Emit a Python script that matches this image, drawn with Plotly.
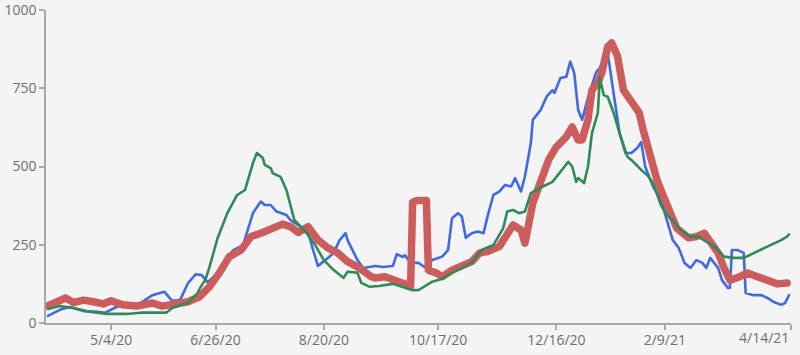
import plotly.graph_objects as go

# ---- data ----
blue_dates = ["2020-04-02","2020-04-08","2020-04-13","2020-04-20","2020-04-27","2020-05-01","2020-05-07","2020-05-19","2020-05-25","2020-05-31",
              "2020-06-04","2020-06-08","2020-06-12","2020-06-16","2020-06-19","2020-06-22","2020-06-26","2020-06-30","2020-07-05","2020-07-10",
              "2020-07-15","2020-07-19","2020-07-21","2020-07-24","2020-07-27","2020-08-01","2020-08-03","2020-08-08","2020-08-12","2020-08-14",
              "2020-08-17","2020-08-22","2020-08-25","2020-08-28","2020-08-31","2020-09-01","2020-09-06","2020-09-09","2020-09-12","2020-09-15",
              "2020-09-19","2020-09-24","2020-09-26","2020-09-29","2020-09-30","2020-10-03","2020-10-07","2020-10-10","2020-10-14","2020-10-19",
              "2020-10-22","2020-10-24","2020-10-27","2020-10-29","2020-10-31","2020-11-03","2020-11-06","2020-11-09","2020-11-11","2020-11-14",
              "2020-11-17","2020-11-20","2020-11-23","2020-11-25","2020-11-28","2020-11-30","2020-12-03","2020-12-04","2020-12-08","2020-12-11",
              "2020-12-14","2020-12-15","2020-12-18","2020-12-21","2020-12-23","2020-12-25","2020-12-27","2020-12-29","2021-01-01","2021-01-05",
              "2021-01-07","2021-01-11","2021-01-12","2021-01-15","2021-01-17","2021-01-20","2021-01-23","2021-01-26","2021-01-28","2021-01-30",
              "2021-02-03","2021-02-07","2021-02-10","2021-02-13","2021-02-16","2021-02-19","2021-02-22","2021-02-25","2021-02-28","2021-03-02",
              "2021-03-04","2021-03-08","2021-03-10","2021-03-13","2021-03-14","2021-03-15","2021-03-18","2021-03-21","2021-03-22","2021-03-26",
              "2021-03-30","2021-04-02","2021-04-05","2021-04-09","2021-04-11","2021-04-13"]
blue_values = [23,42,51,38,36,33,52,64,89,100,
               71,73,127,156,153,130,153,192,233,249,
               351,388,377,377,356,345,329,308,292,244,
               182,208,224,265,287,265,201,176,180,182,
               179,182,220,211,217,192,192,179,201,212,
               233,335,351,340,272,287,292,287,340,409,
               420,441,436,463,420,468,575,649,681,723,
               744,735,783,787,835,799,681,649,720,799,
               815,863,819,691,607,543,543,559,578,500,
               436,393,329,265,240,192,176,201,192,176,
               208,176,137,112,112,233,233,224,96,89,
               89,80,68,58,64,89]

green_dates = ["2020-04-02","2020-04-08","2020-04-15","2020-04-23","2020-05-02","2020-05-12","2020-05-19","2020-06-01","2020-06-04","2020-06-12",
               "2020-06-17","2020-06-18","2020-06-21","2020-06-23","2020-06-27","2020-07-02","2020-07-07","2020-07-11","2020-07-15","2020-07-17",
               "2020-07-20","2020-07-21","2020-07-24","2020-07-25","2020-07-29","2020-08-01","2020-08-05","2020-08-10","2020-08-15","2020-08-20",
               "2020-08-25","2020-08-30","2020-09-01","2020-09-06","2020-09-08","2020-09-12","2020-09-17","2020-09-24","2020-09-29","2020-10-04",
               "2020-10-07","2020-10-10","2020-10-14","2020-10-19","2020-10-24","2020-10-29","2020-11-03","2020-11-08","2020-11-14","2020-11-19",
               "2020-11-21","2020-11-24","2020-11-27","2020-11-30","2020-12-03","2020-12-06","2020-12-09","2020-12-14","2020-12-19","2020-12-22",
               "2020-12-24","2020-12-26","2020-12-27","2020-12-30","2021-01-01","2021-01-03","2021-01-06","2021-01-07","2021-01-09","2021-01-11",
               "2021-01-14","2021-01-17","2021-01-21","2021-01-24","2021-01-28","2021-01-31","2021-02-03","2021-02-07","2021-02-10","2021-02-13",
               "2021-02-17","2021-02-22","2021-02-26","2021-03-03","2021-03-07","2021-03-11","2021-03-16","2021-03-21","2021-03-24","2021-03-30",
               "2021-04-04","2021-04-09","2021-04-12","2021-04-13"]
green_values = [45,54,48,36,29,29,33,33,48,64,
                96,110,140,180,270,351,409,425,511,543,
                527,505,495,479,467,425,329,297,255,201,
                169,144,164,161,128,116,118,125,115,105,
                105,116,132,141,160,176,192,233,249,303,
                356,361,351,356,415,425,436,451,489,515,
                500,451,463,447,500,607,671,783,728,723,
                671,607,531,515,489,473,447,377,345,329,
                297,276,276,255,240,212,208,208,217,233,
                249,265,276,283]

red_dates = ["2020-04-02","2020-04-11","2020-04-15","2020-04-20","2020-04-25","2020-04-30","2020-05-04","2020-05-10","2020-05-17","2020-05-25",
             "2020-05-30","2020-06-04","2020-06-12","2020-06-18","2020-06-23","2020-06-28","2020-07-03","2020-07-09","2020-07-14","2020-07-19",
             "2020-07-24","2020-07-30","2020-08-03","2020-08-07","2020-08-12","2020-08-17","2020-08-22","2020-08-27","2020-09-01","2020-09-07",
             "2020-09-13","2020-09-15","2020-09-20","2020-09-25","2020-09-30","2020-10-03","2020-10-04","2020-10-06","2020-10-11","2020-10-12",
             "2020-10-16","2020-10-19","2020-10-24","2020-10-29","2020-11-03","2020-11-07","2020-11-11","2020-11-17","2020-11-22","2020-11-24",
             "2020-11-28","2020-11-30","2020-12-04","2020-12-08","2020-12-12","2020-12-16","2020-12-21","2020-12-24","2020-12-27","2020-12-29",
             "2021-01-01","2021-01-03","2021-01-06","2021-01-08","2021-01-11","2021-01-13","2021-01-16","2021-01-19","2021-01-23","2021-01-27",
             "2021-01-29","2021-02-02","2021-02-05","2021-02-08","2021-02-12","2021-02-15","2021-02-21","2021-02-25","2021-03-01","2021-03-04",
             "2021-03-08","2021-03-11","2021-03-14","2021-03-19","2021-03-23","2021-03-28","2021-04-02","2021-04-07","2021-04-12"]
red_values = [55,80,65,73,68,61,71,58,54,64,
              54,58,68,84,116,160,212,233,276,287,
              303,316,308,289,308,265,240,224,196,176,
              148,144,148,137,121,118,385,391,391,169,
              160,148,169,180,196,224,228,244,287,313,
              297,255,383,457,521,563,595,626,585,585,
              649,744,767,799,883,895,852,744,703,671,
              617,521,457,409,351,303,272,276,287,260,
              224,176,137,148,160,148,135,125,128]

x_tick_vals = ["2020-05-04","2020-06-26","2020-08-20","2020-10-17","2020-12-16","2021-02-09","2021-04-14"]
x_tick_text = ["5/4/20","6/26/20","8/20/20","10/17/20","12/16/20","2/9/21","4/14/21"]
y_tick_vals = [0, 250, 500, 750, 1000]
x_range = ["2020-04-01", "2021-04-14"]
y_range = [0, 1000]

BLUE = "#4169E1"
GREEN = "#2E8B57"
RED = "#CD5C5C"
AXIS = "#a8a8a8"
TEXT = "#6e6e6e"
BG = "#f4f4f4"

fig = go.Figure()
fig.add_trace(go.Scatter(x=blue_dates, y=blue_values, mode="lines",
                         line=dict(color=BLUE, width=2.6), hoverinfo="skip"))
fig.add_trace(go.Scatter(x=red_dates, y=red_values, mode="lines",
                         line=dict(color=RED, width=7.5), hoverinfo="skip"))
fig.add_trace(go.Scatter(x=green_dates, y=green_values, mode="lines",
                         line=dict(color=GREEN, width=2.6), hoverinfo="skip"))

# last x label sits left of its tick (right-aligned at the axis end), as in the reference
shown_text = x_tick_text[:-1] + [""]
fig.add_annotation(x=x_tick_vals[-1], y=0, xref="x", yref="paper",
                   text=x_tick_text[-1], showarrow=False,
                   xanchor="right", yanchor="top", yshift=-3,
                   font=dict(size=14, color=TEXT, family="Open Sans, sans-serif"))

fig.update_layout(
    width=800, height=355,
    margin=dict(l=46, r=9, t=10, b=32),
    paper_bgcolor=BG, plot_bgcolor=BG,
    showlegend=False,
    font=dict(family="Open Sans, sans-serif", size=14, color=TEXT),
)
fig.update_xaxes(type="date", range=x_range, tickvals=x_tick_vals, ticktext=shown_text,
                 showgrid=False, zeroline=False, showline=True, linecolor=AXIS, linewidth=1.5,
                 ticks="outside", ticklen=5, tickcolor=AXIS, tickwidth=1.5,
                 ticklabelstandoff=-2,
                 automargin=False, ticklabeloverflow="allow",
                 tickfont=dict(size=14, color=TEXT))
fig.update_yaxes(range=y_range, tickvals=y_tick_vals,
                 showgrid=False, zeroline=False, showline=True, linecolor=AXIS, linewidth=1.5,
                 ticks="outside", ticklen=5, tickcolor=AXIS, tickwidth=1.5,
                 automargin=False, ticklabeloverflow="allow",
                 tickfont=dict(size=14, color=TEXT))

post = ("document.body.style.margin='0';document.body.style.background='%s';"
        "document.querySelectorAll('.js-line').forEach(function(p){"
        "p.style.strokeLinejoin='round';p.style.strokeLinecap='round';});" % BG)
fig.write_html("out.html", config={"displayModeBar": False}, post_script=post)
